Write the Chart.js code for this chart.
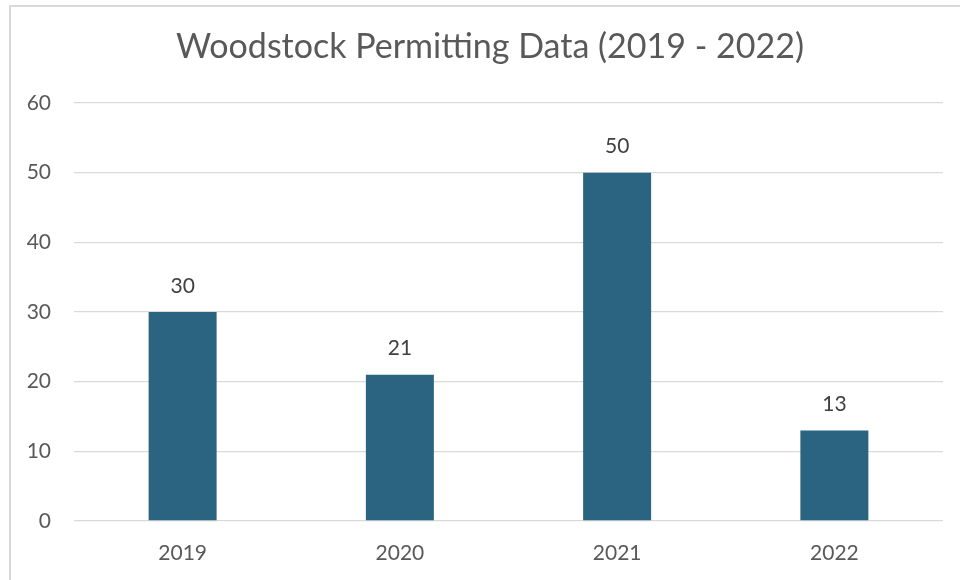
<!DOCTYPE html>
<html>
<head>
<meta charset="utf-8">
<script src="https://cdn.jsdelivr.net/npm/chart.js@4"></script>
<style>
  html, body { margin: 0; padding: 0; background: #fff; overflow: hidden; }
  #wrap { position: relative; width: 960px; height: 580px; }
  #frame { position: absolute; left: 9px; top: 5px; width: 1000px; height: 1000px;
           border: 2px solid #d9d9d9; box-sizing: border-box; }
  #chart { position: absolute; left: 0; top: 0; }
</style>
</head>
<body>
<div id="wrap">
  <div id="frame"></div>
  <canvas id="chart" width="960" height="580"></canvas>
</div>
<script>
const years = ['2019', '2020', '2021', '2022'];
const permits = [30, 21, 50, 13];
const yTicks = [0, 10, 20, 30, 40, 50, 60];
const chartTitle = 'Woodstock Permitting Data (2019 - 2022)';

const FONT = "Lato, 'Open Sans', sans-serif";

// value above each bar + the title (Excel centres it on the whole frame, not the canvas)
const labelsPlugin = {
    id: 'labelsPlugin',
    afterDatasetsDraw(chart) {
        const ctx = chart.ctx;
        const meta = chart.getDatasetMeta(0);
        ctx.save();
        ctx.font = '21px ' + FONT;
        ctx.fillStyle = '#404040';
        ctx.textAlign = 'center';
        ctx.textBaseline = 'middle';
        meta.data.forEach((bar, i) => {
            ctx.fillText(String(permits[i]), bar.x, bar.y - 26);
        });

        ctx.font = '34px ' + FONT;
        ctx.fillStyle = '#595959';
        ctx.fillText(chartTitle, 490, 47);
        ctx.restore();
    }
};

new Chart(document.getElementById('chart').getContext('2d'), {
    type: 'bar',
    data: {
        labels: years,
        datasets: [{
            data: permits,
            backgroundColor: '#2a6481',
            categoryPercentage: 1,
            barPercentage: 0.313
        }]
    },
    options: {
        responsive: false,
        animation: false,
        layout: { padding: { left: 0, right: 17, top: 103, bottom: 0 } },
        scales: {
            x: {
                grid: { display: false },
                border: { display: false },
                ticks: { color: '#595959', font: { family: FONT, size: 21 }, padding: 12 },
                afterFit(scale) { scale.height = 59; }
            },
            y: {
                min: 0,
                max: 60,
                afterBuildTicks(scale) { scale.ticks = yTicks.map(v => ({ value: v })); },
                grid: { color: '#d9d9d9', lineWidth: 1.3, drawTicks: false },
                border: { display: false },
                ticks: { color: '#595959', font: { family: FONT, size: 21 }, padding: 23 },
                afterFit(scale) { scale.width = 74; }
            }
        },
        plugins: {
            legend: { display: false },
            tooltip: { enabled: false },
            title: { display: false }
        }
    },
    plugins: [labelsPlugin]
});
</script>
</body>
</html>
